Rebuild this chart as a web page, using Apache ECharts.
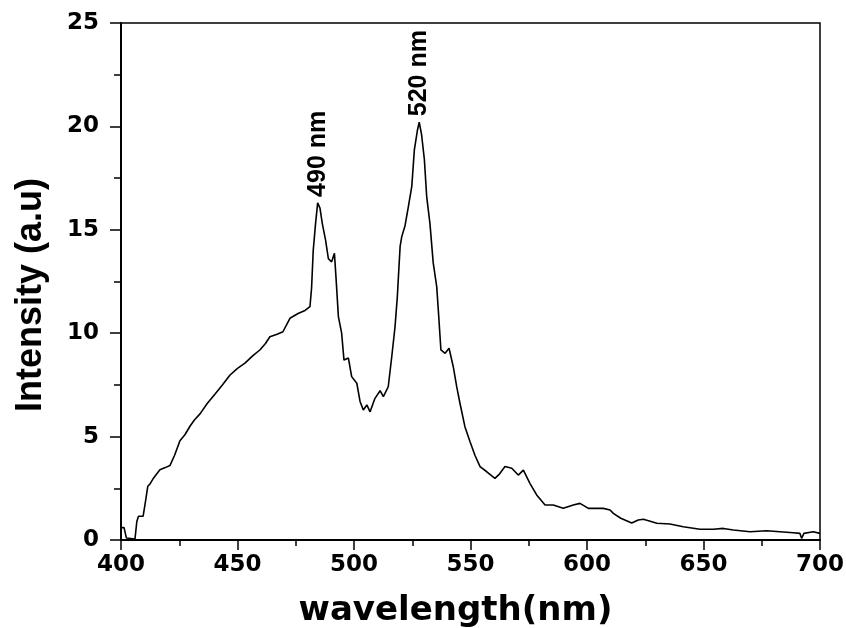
<!DOCTYPE html>
<html>
<head>
<meta charset="utf-8">
<script src="https://cdn.jsdelivr.net/npm/echarts@6/dist/echarts.min.js"></script>
<style>
  html, body { margin: 0; padding: 0; background: #fff; }
  #main { width: 846px; height: 628px; }
</style>
</head>
<body>
<div id="main"></div>
<script>
// wavelength (nm) and intensity (a.u)
var wavelength = [400, 401.3, 402.3, 403, 406, 406.8, 407.5, 409.5, 410.5, 411.5, 412.4, 414, 416.7, 419, 421, 423, 425.3, 427.5, 429.6, 431.5, 433.9, 437, 440.3, 443.5, 446.8, 450, 453.2, 456.5, 459.7, 462, 463.9, 467, 469.5, 472.5, 476, 479, 481.1, 481.8, 482.5, 483.5, 484.4, 485.4, 486.4, 487.8, 489, 490.4, 491.6, 492.3, 493.3, 494.7, 495.7, 497.6, 499, 501.2, 502.6, 504, 505.5, 506.9, 509, 511.2, 512.6, 514.7, 516.2, 517.6, 518.6, 519.2, 519.8, 520.5, 521.9, 523.3, 524.8, 525.9, 527.2, 528, 529, 530.2, 531.2, 532.6, 534, 535.5, 536.2, 537.3, 539.1, 540.8, 542.6, 544.1, 545.5, 547.6, 549.8, 551.9, 554.1, 557, 560.5, 562.5, 564.8, 567.7, 570.5, 572.7, 575.5, 578.4, 582, 585.5, 589.8, 594.1, 597, 600.6, 603.4, 607, 609.9, 611.3, 614.5, 619.2, 622, 624.2, 630, 635.6, 641.3, 648.5, 654.2, 658.5, 662.8, 670, 677.1, 682.8, 688.5, 691.4, 692.1, 693.1, 697.1, 700]
var intensity = [0.6, 0.6, 0.1, 0.05, 0.05, 0.9, 1.15, 1.15, 1.85, 2.6, 2.7, 3.0, 3.4, 3.5, 3.6, 4.1, 4.8, 5.1, 5.5, 5.8, 6.1, 6.6, 7.05, 7.5, 7.98, 8.3, 8.55, 8.9, 9.2, 9.5, 9.83, 9.95, 10.07, 10.72, 10.95, 11.1, 11.28, 12.2, 14.0, 15.3, 16.3, 16.05, 15.3, 14.5, 13.6, 13.45, 13.86, 12.65, 10.8, 10.0, 8.7, 8.8, 7.9, 7.58, 6.7, 6.29, 6.53, 6.2, 6.85, 7.22, 6.93, 7.41, 8.86, 10.3, 11.77, 13.0, 14.2, 14.67, 15.2, 16.1, 17.1, 18.86, 19.8, 20.2, 19.6, 18.4, 16.6, 15.3, 13.4, 12.25, 11.1, 9.19, 9.03, 9.27, 8.38, 7.4, 6.6, 5.48, 4.75, 4.1, 3.55, 3.3, 2.98, 3.2, 3.55, 3.47, 3.14, 3.38, 2.74, 2.18, 1.69, 1.69, 1.53, 1.69, 1.77, 1.53, 1.53, 1.53, 1.45, 1.29, 1.05, 0.82, 0.97, 1.0, 0.81, 0.77, 0.64, 0.52, 0.52, 0.56, 0.48, 0.4, 0.45, 0.4, 0.35, 0.32, 0.08, 0.32, 0.4, 0.32]

// peak annotations
var peakNames = ['490 nm', '520 nm']
var peakCoords = [[484.4, 16.3], [528, 20.2]]

var seriesData = []
for (var i = 0; i < wavelength.length; i++) {
  seriesData.push([wavelength[i], intensity[i]])
}

var narrow = "'Liberation Sans', sans-serif"
var wide = "'DejaVu Sans', sans-serif"

var chart = echarts.init(document.getElementById('main'))
var option = {
  animation: false,
  grid: {
    left: 121,
    right: 26,
    top: 23,
    bottom: 88,
    outerBoundsMode: 'none',
    show: true,
    borderColor: '#000',
    borderWidth: 1.5
  },
  xAxis: {
    type: 'value',
    min: 400,
    max: 700,
    interval: 50,
    name: 'wavelength(nm)',
    nameLocation: 'middle',
    nameGap: 54,
    nameTextStyle: { color: '#000', fontFamily: wide, fontWeight: 'bold', fontSize: 34, padding: [0, 30, 0, 0] },
    axisLine: { lineStyle: { color: '#000', width: 2 } },
    axisTick: { inside: false, length: 10, lineStyle: { color: '#000', width: 1.5 } },
    minorTick: { show: true, splitNumber: 2, length: 6, lineStyle: { color: '#000', width: 1.5 } },
    axisLabel: { color: '#000', fontFamily: wide, fontWeight: 'bold', fontSize: 23, margin: 14 },
    splitLine: { show: false }
  },
  yAxis: {
    type: 'value',
    min: 0,
    max: 25,
    interval: 5,
    name: 'Intensity (a.u)',
    nameLocation: 'middle',
    nameRotate: 90,
    nameGap: 72,
    nameTextStyle: { color: '#000', fontFamily: narrow, fontWeight: 'bold', fontSize: 36, padding: [0, 27, 0, 0] },
    axisLine: { lineStyle: { color: '#000', width: 2 } },
    axisTick: { inside: false, length: 11, lineStyle: { color: '#000', width: 1.5 } },
    minorTick: { show: true, splitNumber: 2, length: 7, lineStyle: { color: '#000', width: 1.5 } },
    axisLabel: { color: '#000', fontFamily: wide, fontWeight: 'bold', fontSize: 23, margin: 22 },
    splitLine: { show: false }
  },
  series: [
    {
      type: 'line',
      data: seriesData,
      showSymbol: false,
      lineStyle: { color: '#000', width: 1.6 },
      markPoint: {
        symbol: 'circle',
        symbolSize: 0,
        data: peakNames.map(function (n, k) {
          return { name: n, coord: peakCoords[k] }
        }),
        label: {
          show: true,
          formatter: '{b}',
          position: 'top',
          distance: 6,
          rotate: 90,
          align: 'left',
          verticalAlign: 'middle',
          color: '#000',
          fontFamily: narrow,
          fontWeight: 'bold',
          fontSize: 25
        }
      }
    }
  ]
}
chart.setOption(option)
</script>
</body>
</html>
